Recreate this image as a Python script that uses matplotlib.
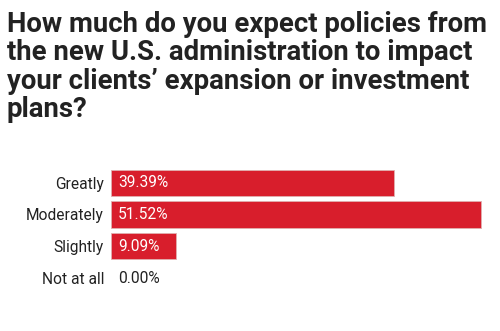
import matplotlib.pyplot as plt

# survey answers and their shares (%)
answers = ['Greatly', 'Moderately', 'Slightly', 'Not at all']
shares = [39.39, 51.52, 9.09, 0.00]

title = ("How much do you expect policies from\n"
         "the new U.S. administration to impact\n"
         "your clients\u2019 expansion or investment\n"
         "plans?")

plt.rcParams['font.family'] = ['Roboto', 'DejaVu Sans']

fig = plt.figure(figsize=(5, 3.31), dpi=100)
fig.text(0.014, 0.968, title, ha='left', va='top', fontsize=19.8,
         fontweight='bold', color='#222222', linespacing=1.07)

ax = fig.add_axes([0.222, 0.112, 0.758, 0.384])
ypos = range(len(answers))
ax.barh(ypos, shares, height=0.82, color='#D81E2C',
        edgecolor=['#e0b0b0' if v > 0 else 'none' for v in shares],
        linewidth=0.6)
ax.set_xlim(0, 52.8)
ax.set_ylim(len(answers) - 0.5, -0.5)

for y, v in zip(ypos, shares):
    col = 'white' if v > 5 else '#222222'
    ax.text(1.0, y, f'{v:.2f}%', va='center', ha='left', fontsize=11.2, color=col)

ax.set_yticks(list(ypos))
ax.set_yticklabels(answers, fontsize=11.2, color='#222222')
ax.tick_params(axis='y', length=0, pad=5)
ax.set_xticks([])
for s in ax.spines.values():
    s.set_visible(False)

fig.savefig('out.png', dpi=100)
